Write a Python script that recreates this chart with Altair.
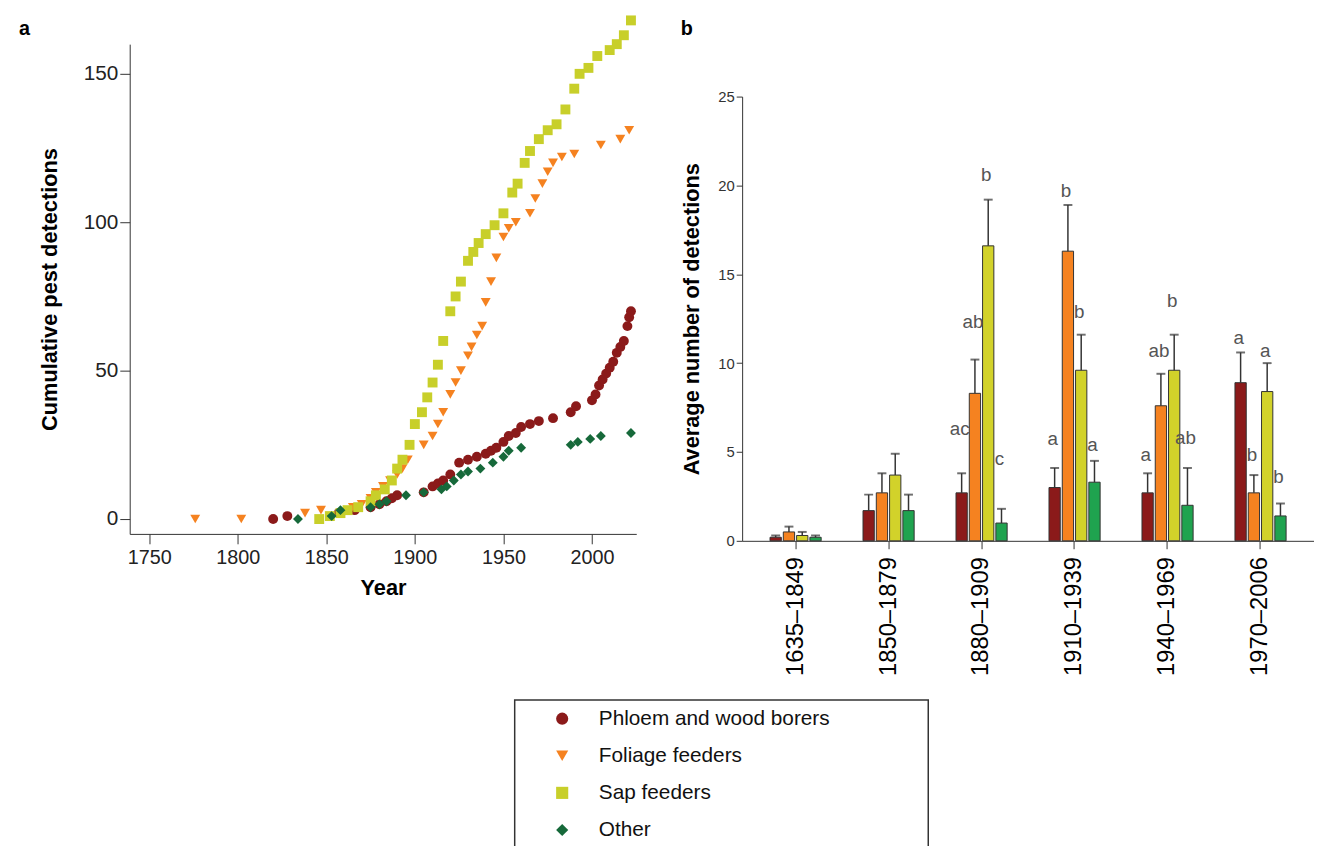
import pandas as pd
import altair as alt

FONT = "Liberation Sans"

groups = ["Phloem and wood borers", "Foliage feeders", "Sap feeders", "Other"]
pt_colors = ["#8b1a1a", "#f58220", "#c8cf2a", "#16693a"]
bar_colors = ["#8b1a1a", "#f58220", "#d2d22a", "#1fa34f"]
shapes = ["circle", "triangle-down", "square", "diamond"]

# panel a: cumulative detections (year, count)
phloem_years = [1820, 1828, 1857, 1866, 1875, 1880, 1884, 1887, 1890, 1905, 1910, 1913, 1916, 1920, 1925,
                1930, 1935, 1940, 1943, 1946, 1950, 1953, 1957, 1960, 1965, 1970, 1978, 1988, 1991,
                2000, 2002, 2004, 2006, 2008, 2010, 2012, 2014, 2016, 2018, 2020, 2021, 2022]
phloem_vals = [0, 1, 2, 3, 4, 5, 6, 7, 8, 9, 11, 12, 13, 15, 19,
               20, 21, 22, 23, 24, 26, 28, 29, 31, 32, 33, 34, 36, 38,
               40, 42, 45, 47, 49, 51, 53, 56, 58, 60, 65, 68, 70]
foliage_years = [1776, 1802, 1838, 1847, 1865, 1870, 1875, 1878, 1882, 1886, 1890, 1893, 1896, 1905,
                 1910, 1913, 1916, 1920, 1923, 1926, 1930, 1932, 1935, 1938, 1940, 1943, 1946, 1950,
                 1953, 1957, 1965, 1968, 1972, 1975, 1978, 1983, 1990, 2005, 2016, 2021]
foliage_vals = [0, 0, 2, 3, 4, 5, 7, 9, 11, 13, 15, 17, 20, 25,
                28, 32, 36, 42, 46, 50, 55, 58, 62, 65, 73, 80, 88, 95,
                98, 100, 103, 108, 113, 117, 120, 122, 123, 126, 128, 131]
sap_years = [1846, 1852, 1858, 1862, 1868, 1875, 1878, 1883, 1887, 1890, 1893, 1897, 1900, 1904, 1907,
             1910, 1913, 1916, 1920, 1923, 1926, 1930, 1933, 1936, 1940, 1945, 1950, 1955, 1958,
             1962, 1965, 1970, 1975, 1980, 1985, 1990, 1993, 1998, 2003, 2010, 2014, 2018, 2022]
sap_vals = [0, 1, 2, 3, 4, 6, 8, 10, 13, 17, 20, 25, 32, 36, 41,
            46, 52, 60, 70, 75, 80, 87, 90, 93, 96, 99, 103, 110, 113,
            120, 124, 128, 131, 133, 138, 145, 150, 152, 156, 158, 160, 163, 168]
other_years = [1834, 1853, 1858, 1875, 1880, 1884, 1895, 1905, 1915, 1918, 1922, 1926, 1930,
               1937, 1944, 1950, 1953, 1960, 1988, 1992, 1999, 2005, 2022]
other_vals = [0, 1, 3, 4, 5, 6, 8, 9, 10, 11, 13, 15, 16,
              17, 19, 21, 23, 24, 25, 26, 27, 28, 29]

rows = []
for g, ys, vs in zip(groups, [phloem_years, foliage_years, sap_years, other_years],
                     [phloem_vals, foliage_vals, sap_vals, other_vals]):
    for y, v in zip(ys, vs):
        rows.append({"group": g, "year": y, "count": v})
df_a = pd.DataFrame(rows)

# panel b: average detections per period
periods = ["1635\u20131849", "1850\u20131879", "1880\u20131909", "1910\u20131939", "1940\u20131969", "1970\u20132006"]
means = [[0.2, 0.5, 0.3, 0.2],
         [1.7, 2.7, 3.7, 1.7],
         [2.7, 8.3, 16.6, 1.0],
         [3.0, 16.3, 9.6, 3.3],
         [2.7, 7.6, 9.6, 2.0],
         [8.9, 2.7, 8.4, 1.4]]
tops = [[0.3, 0.8, 0.5, 0.3],
        [2.6, 3.8, 4.9, 2.6],
        [3.8, 10.2, 19.2, 1.8],
        [4.1, 18.9, 11.6, 4.5],
        [3.8, 9.4, 11.6, 4.1],
        [10.6, 3.7, 10.0, 2.1]]
letters = [["", "", "", ""],
           ["", "", "", ""],
           ["ac", "ab", "b", "c"],
           ["a", "b", "b", "a"],
           ["a", "ab", "b", "ab"],
           ["a", "b", "a", "b"]]
letter_y = [[0, 0, 0, 0],
            [0, 0, 0, 0],
            [6.3, 12.3, 20.6, 4.6],
            [5.7, 19.7, 12.9, 5.4],
            [4.8, 10.7, 13.5, 5.8],
            [11.4, 4.8, 10.7, 3.6]]

rows_b = []
for p, m, t, l, ly in zip(periods, means, tops, letters, letter_y):
    for i, g in enumerate(groups):
        rows_b.append({"period": p, "grp": g, "mean": m[i], "top": t[i],
                       "letter": l[i], "ly": ly[i]})
df_b = pd.DataFrame(rows_b)

color_pts = alt.Color("group:N", scale=alt.Scale(domain=groups, range=pt_colors), legend=None)
color_bars = alt.Color("grp:N", scale=alt.Scale(domain=groups, range=bar_colors), legend=None)
shape_enc = alt.Shape("group:N", scale=alt.Scale(domain=groups, range=shapes), legend=None)

pts_a = alt.Chart(df_a).mark_point(filled=True, size=100, opacity=1).encode(
    x=alt.X("year:Q", scale=alt.Scale(domain=[1739, 2025], nice=False),
            axis=alt.Axis(title="Year", values=[1750, 1800, 1850, 1900, 1950, 2000], format="d",
                          labelFontSize=20, titleFontSize=22, titleFontWeight="bold", titlePadding=10,
                          tickSize=10, labelPadding=4, grid=False, domainColor="#333", tickColor="#333",
                          labelColor="#222")),
    y=alt.Y("count:Q", scale=alt.Scale(domain=[-5, 160], nice=False, zero=False),
            axis=alt.Axis(title="Cumulative pest detections", values=[0, 50, 100, 150],
                          labelFontSize=21, titleFontSize=22, titleFontWeight="bold", labelColor="#222",
                          tickSize=10, grid=False, domainColor="#333", tickColor="#333", titlePadding=22)),
    color=color_pts,
    shape=shape_enc,
)
label_a = alt.Chart(pd.DataFrame({"t": ["a"]})).mark_text(
    font=FONT, fontSize=20, fontWeight="bold", align="left", baseline="middle").encode(
    x=alt.value(-112), y=alt.value(-15), text="t:N")
panel_a = alt.layer(pts_a, label_a).properties(width=512, height=495)

xb = alt.X("period:N", sort=periods, scale=alt.Scale(paddingInner=0.45, paddingOuter=0.3),
           axis=alt.Axis(title=None, labelAngle=270, labelFontSize=24, labelAlign="right",
                         labelBaseline="middle", labelPadding=8, tickSize=8, domainColor="#333",
                         tickColor="#333", labelColor="#000"))
xo = alt.XOffset("grp:N", sort=groups, scale=alt.Scale(paddingInner=0.15))

bars = alt.Chart(df_b).mark_bar(stroke="#333", strokeWidth=1).encode(
    x=xb, xOffset=xo,
    y=alt.Y("mean:Q", scale=alt.Scale(domain=[0, 25], nice=False),
            axis=alt.Axis(title="Average number of detections", values=[0, 5, 10, 15, 20, 25],
                          labelFontSize=15, labelColor="#333", titleFontSize=22, titleFontWeight="bold",
                          grid=False, tickSize=6, domainColor="#333", tickColor="#333", titlePadding=14)),
    color=color_bars,
)
rules = alt.Chart(df_b).mark_rule(color="#333", strokeWidth=1.5).encode(
    x=xb, xOffset=xo, y="mean:Q", y2="top:Q")
caps = alt.Chart(df_b).mark_tick(color="#333", size=9, thickness=2).encode(
    x=xb, xOffset=xo, y="top:Q")
texts = alt.Chart(df_b).transform_filter("datum.letter != ''").mark_text(
    font=FONT, fontSize=19, color="#555", baseline="middle", dx=-2).encode(
    x=xb, xOffset=xo, y="ly:Q", text="letter:N")

panel_b = alt.layer(bars, rules, caps, texts).properties(width=578, height=449)

spacer = alt.Chart(pd.DataFrame({"t": ["b"]})).mark_text(
    font=FONT, fontSize=20, fontWeight="bold", align="left", baseline="middle").encode(
    x=alt.value(-62), y=alt.value(-15), text="t:N").properties(width=578, height=46)

col_b = alt.vconcat(spacer, panel_b, spacing=0)

leg_df = pd.DataFrame({"group": groups, "row": [0, 1, 2, 3]})
leg_base = alt.Chart(leg_df).encode(y=alt.Y("row:O", axis=None, scale=alt.Scale(paddingOuter=0.6)))
leg_pts = leg_base.mark_point(filled=True, size=150, opacity=1).encode(
    x=alt.value(48), color=color_pts, shape=shape_enc)
leg_txt = leg_base.mark_text(font=FONT, fontSize=21, align="left", color="#111").encode(
    x=alt.value(85), text="group:N")
legend = alt.layer(leg_pts, leg_txt).properties(
    width=418, height=150, view=alt.ViewBackground(stroke="#333", strokeWidth=1.5))

top_row = alt.hconcat(panel_a, col_b, spacing=45).resolve_scale(color="independent")

chart = alt.vconcat(top_row, legend, spacing=23, center=True).resolve_scale(
    color="independent"
).properties(
    padding={"left": 11, "top": 2, "right": 0, "bottom": 0}
).configure(font=FONT).configure_view(stroke=None)

chart.save("out.html", embed_options={"renderer": "svg", "actions": False})
